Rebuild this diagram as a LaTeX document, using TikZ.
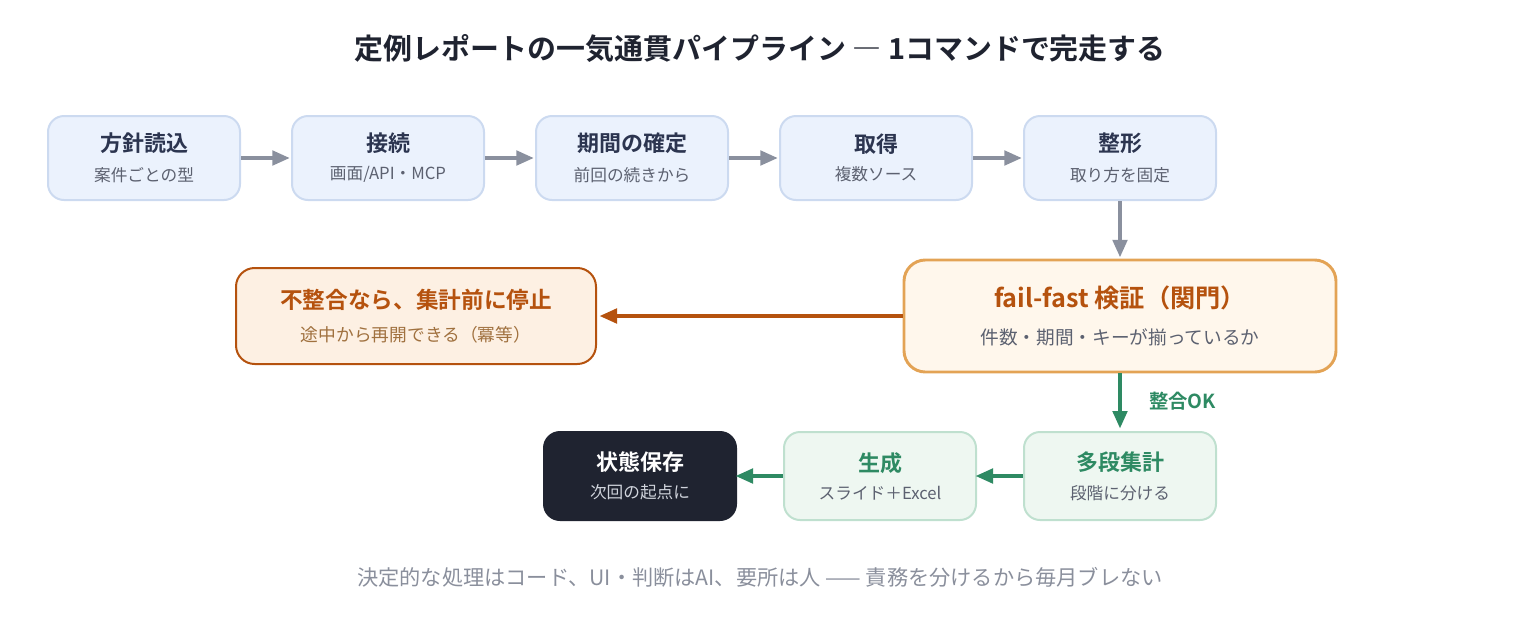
\documentclass[tikz,border=0pt]{standalone}
\usepackage{fontspec}
\setmainfont{Noto Sans CJK JP}[BoldFont={Noto Sans CJK JP Bold}]
\usetikzlibrary{arrows.meta}
\definecolor{bluefill}{HTML}{EBF2FD}
\definecolor{blueline}{HTML}{CCDAF0}
\definecolor{bluetitle}{HTML}{2C3550}
\definecolor{subgrey}{HTML}{5C6170}
\definecolor{arrgrey}{HTML}{8A909E}
\definecolor{gatefill}{HTML}{FFF7EC}
\definecolor{gateline}{HTML}{E3A355}
\definecolor{rust}{HTML}{B5520E}
\definecolor{stopfill}{HTML}{FDF0E3}
\definecolor{stopsub}{HTML}{A0713F}
\definecolor{greenfill}{HTML}{EEF7F1}
\definecolor{greenline}{HTML}{BFE0CF}
\definecolor{greentxt}{HTML}{2E8A63}
\definecolor{darkfill}{HTML}{1F2330}
\definecolor{darksub}{HTML}{D0D4DC}
\definecolor{foot}{HTML}{8A8F9C}
\tikzset{
  px/.style={x=0.75pt,y=-0.75pt},
  card/.style={rounded corners=12pt, line width=1.5pt, minimum width=144pt, minimum height=63pt, align=center, inner sep=0pt},
  stepbox/.style={card, fill=bluefill, draw=blueline},
  greenbox/.style={card, fill=greenfill, draw=greenline},
  darkbox/.style={card, fill=darkfill, draw=darkfill, minimum height=66pt},
  garr/.style={-{Triangle[length=13pt,width=11pt]}, line width=2.3pt},
}
\newcommand{\cardtxt}[4]{{\color{#1}\bfseries\fontsize{16.5}{19}\selectfont #2}\\[9pt]{\color{#3}\fontsize{12.5}{14}\selectfont #4}}
\begin{document}
\begin{tikzpicture}[px]
\useasboundingbox (0,0) rectangle (1520,640);
\node[font=\bfseries\fontsize{21.7}{25}\selectfont, text=darkfill] (title) at (760,48) {定例レポートの一気通貫パイプライン ― 1コマンドで完走する};

\node[stepbox] (b1) at (144,158) {\cardtxt{bluetitle}{方針読込}{subgrey}{案件ごとの型}};
\node[stepbox] (b2) at (388,158) {\cardtxt{bluetitle}{接続}{subgrey}{画面/API・MCP}};
\node[stepbox] (b3) at (632,158) {\cardtxt{bluetitle}{期間の確定}{subgrey}{前回の続きから}};
\node[stepbox] (b4) at (876,158) {\cardtxt{bluetitle}{取得}{subgrey}{複数ソース}};
\node[stepbox] (b5) at (1120,158) {\cardtxt{bluetitle}{整形}{subgrey}{取り方を固定}};

\foreach \a/\b in {b1/b2,b2/b3,b3/b4,b4/b5}
  \draw[garr, arrgrey] (\a.east) -- ([xshift=-1pt]\b.west);

\node[card, fill=gatefill, draw=gateline, line width=2.2pt, rounded corners=16pt, minimum width=324pt, minimum height=84pt] (gate) at (1120,316)
  {{\color{rust}\bfseries\fontsize{18.9}{22}\selectfont fail-fast 検証（関門）}\\[13pt]{\color{subgrey}\fontsize{14}{16}\selectfont 件数・期間・キーが揃っているか}};
\draw[garr, arrgrey] (b5.south) -- ([yshift=1pt]gate.north);

\node[card, fill=stopfill, draw=rust, rounded corners=14pt, minimum width=270pt, minimum height=72pt] (stop) at (416,316)
  {{\color{rust}\bfseries\fontsize{17}{20}\selectfont 不整合なら、集計前に停止}\\[11pt]{\color{stopsub}\fontsize{13.3}{15}\selectfont 途中から再開できる（冪等）}};
\draw[garr, rust] (gate.west) -- ([xshift=2pt]stop.east);

\node[greenbox, minimum height=66pt] (agg) at (1120,476) {\cardtxt{greentxt}{多段集計}{subgrey}{段階に分ける}};
\node[greenbox, minimum height=66pt] (gen) at (880,476) {\cardtxt{greentxt}{生成}{subgrey}{スライド＋Excel}};
\node[darkbox] (save) at (640,476) {\cardtxt{white}{状態保存}{darksub}{次回の起点に}};

\draw[garr, greentxt] (gate.south) -- node[right=17.5pt, font=\bfseries\fontsize{14.5}{17}\selectfont, text=greentxt] (oklbl) {整合OK} ([yshift=2pt]agg.north);
\draw[garr, greentxt] (agg.west) -- ([xshift=-1pt]gen.east);
\draw[garr, greentxt] (gen.west) -- ([xshift=-1pt]save.east);

\node[text=foot, font=\fontsize{15.9}{18}\selectfont] (footer) at (760,577) {決定的な処理はコード、UI・判断はAI、要所は人 —— 責務を分けるから毎月ブレない};
\end{tikzpicture}
\end{document}
